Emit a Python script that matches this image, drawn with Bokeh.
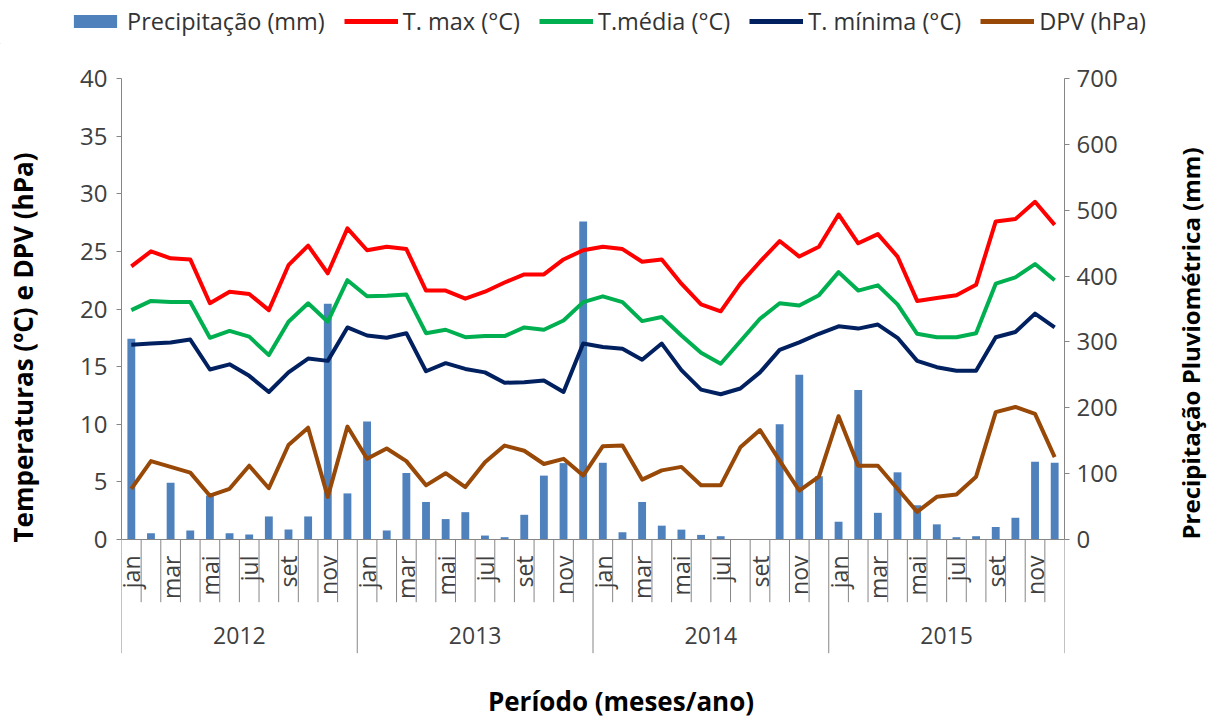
import math
from bokeh.plotting import figure
from bokeh.layouts import column, row
from bokeh.models import Range1d, LinearAxis, FixedTicker, Legend, LegendItem
from bokeh.core.properties import value
from bokeh.embed import file_html
from bokeh.resources import INLINE

# ---------------- data ----------------
years = ["2012", "2013", "2014", "2015"]
month_names = ["jan", "fev", "mar", "abr", "mai", "jun",
               "jul", "ago", "set", "out", "nov", "dez"]
shown_months = ["jan", "mar", "mai", "jul", "set", "nov"]

precip = [305, 9.6, 86, 13.7, 66.8, 9.6, 7.6, 35, 15.2, 35, 358, 70,
          179, 13.7, 101, 57, 31, 41.5, 6, 3.5, 37.5, 97, 116, 483,
          116.5, 11, 57, 21, 15, 7, 5, 0, 0, 175, 250, 96,
          27, 227, 40.5, 102, 52, 23, 3.5, 5, 19, 33, 118, 116.5]

tmax = [23.7, 25.0, 24.4, 24.3, 20.5, 21.5, 21.3, 19.9, 23.8, 25.5, 23.1, 27.0,
        25.1, 25.4, 25.2, 21.6, 21.6, 20.9, 21.5, 22.3, 23.0, 23.0, 24.3, 25.1,
        25.4, 25.2, 24.1, 24.3, 22.2, 20.4, 19.8, 22.2, 24.1, 25.9, 24.55, 25.4,
        28.2, 25.7, 26.5, 24.55, 20.7, 20.95, 21.2, 22.1, 27.6, 27.8, 29.3, 27.3]

tmed = [19.9, 20.7, 20.6, 20.6, 17.5, 18.1, 17.6, 16.0, 18.9, 20.5, 18.9, 22.5,
        21.1, 21.15, 21.25, 17.9, 18.2, 17.55, 17.65, 17.65, 18.4, 18.2, 19.0, 20.6,
        21.1, 20.6, 18.95, 19.3, 17.7, 16.2, 15.25, 17.2, 19.15, 20.5, 20.3, 21.2,
        23.2, 21.6, 22.05, 20.4, 17.85, 17.55, 17.55, 17.9, 22.2, 22.75, 23.9, 22.5]

tmin = [16.9, 17.0, 17.1, 17.35, 14.75, 15.2, 14.2, 12.8, 14.5, 15.7, 15.5, 18.4,
        17.7, 17.5, 17.9, 14.6, 15.3, 14.8, 14.5, 13.6, 13.65, 13.8, 12.8, 17.0,
        16.7, 16.55, 15.6, 17.0, 14.7, 13.0, 12.6, 13.1, 14.5, 16.45, 17.1, 17.85,
        18.5, 18.3, 18.65, 17.5, 15.5, 14.95, 14.65, 14.65, 17.55, 18.0, 19.6, 18.4]

dpv = [4.4, 6.8, 6.3, 5.8, 3.8, 4.4, 6.4, 4.45, 8.2, 9.7, 3.7, 9.8,
       7.0, 7.9, 6.8, 4.7, 5.75, 4.55, 6.7, 8.15, 7.7, 6.55, 7.0, 5.55,
       8.1, 8.15, 5.2, 6.0, 6.3, 4.7, 4.7, 8.0, 9.5, 6.85, 4.25, 5.45,
       10.7, 6.4, 6.4, 4.4, 2.4, 3.7, 3.9, 5.45, 11.05, 11.5, 10.9, 7.15]

series_names = ["Precipitação (mm)", "T. max (°C)", "T.média (°C)",
                "T. mínima (°C)", "DPV (hPa)"]
series_colors = ["#4F81BD", "#FF0000", "#00B050", "#002060", "#984807"]

# ---------------- layout constants (page px) ----------------
FONT = "Open Sans"
PAGE_W, PAGE_H = 1220, 720
LEG_H = 44                      # legend strip on top
LT_W = 50                       # strip for the left axis title
RT_W = 70                       # strip for the right axis title
MAIN_W, MAIN_H = PAGE_W - LT_W - RT_W, PAGE_H - LEG_H
FL, FR = 121, 1064              # plot area left/right (page px)
P40, P0 = 78, 539               # page y of 40 degC and of 0
ppu = (P0 - P40) / 40.0
ytop = 40 + (P40 - LEG_H) / ppu
ybot = -(PAGE_H - P0) / ppu
K = 700 / 40.0                  # mm per degC on the twin axes

AX = "#868686"
TXT = "#404040"


def yv(page_y):
    return (P0 - page_y) / ppu


def strip(w, h):
    f = figure(width=w, height=h, output_backend="svg", toolbar_location=None,
               x_range=Range1d(0, w), y_range=Range1d(0, h),
               x_axis_location=None, y_axis_location=None,
               min_border_left=0, min_border_right=0,
               min_border_top=0, min_border_bottom=0)
    f.title.visible = False
    f.xgrid.visible = False
    f.ygrid.visible = False
    f.outline_line_color = None
    return f


n = len(tmax)
xs = [i + 0.5 for i in range(n)]

# ---------------- main figure ----------------
p = figure(width=MAIN_W, height=MAIN_H, output_backend="svg", toolbar_location=None,
           x_range=Range1d(0, n), y_range=Range1d(ybot, ytop),
           x_axis_location=None,
           min_border_left=FL - LT_W, min_border_right=(PAGE_W - RT_W) - FR,
           min_border_top=0, min_border_bottom=0)
p.title.visible = False
p.xgrid.visible = False
p.ygrid.visible = False
p.outline_line_color = None
p.extra_y_ranges = {"precip": Range1d(ybot * K, ytop * K)}

ya = p.yaxis[0]
ya.bounds = (0, 40)
ya.ticker = FixedTicker(ticks=list(range(0, 45, 5)))

rax = LinearAxis(y_range_name="precip", bounds=(0, 700),
                 ticker=FixedTicker(ticks=list(range(0, 800, 100))))
p.add_layout(rax, "right")
for ax, so in ((ya, 9), (rax, 7)):
    ax.axis_line_color = AX
    ax.major_tick_line_color = AX
    ax.minor_tick_line_color = None
    ax.major_tick_in = 0
    ax.major_tick_out = 5
    ax.major_label_standoff = so
    ax.major_label_text_font = FONT
    ax.major_label_text_font_size = "24px"
    ax.major_label_text_color = TXT

# bars (secondary axis), then lines on top
p.vbar(x=xs, top=precip, bottom=0, width=0.4, y_range_name="precip",
       fill_color=series_colors[0], line_color=None)
for vals, col in zip([tmax, tmed, tmin, dpv], series_colors[1:]):
    p.line(xs, vals, line_color=col, line_width=4, line_join="round")

# category axis drawn in the lower part of the frame
p.segment(x0=[0], y0=[0], x1=[n], y1=[0], line_color=AX, line_width=1)
bx = list(range(0, n + 1))
by = [yv(652.7) if b % 12 == 0 else yv(601.7) for b in bx]
p.segment(x0=bx, y0=[0] * len(bx), x1=bx, y1=by, line_color=AX, line_width=1)

mx = [i + 0.5 for i in range(n) if month_names[i % 12] in shown_months]
mt = [month_names[i % 12] for i in range(n) if month_names[i % 12] in shown_months]
p.text(x=mx, y=[yv(555)] * len(mx), text=mt, angle=math.pi / 2,
       text_align="right", text_baseline="middle",
       text_font=value(FONT), text_font_size="23px", text_color=TXT)

yx = [12 * k + 6 for k in range(len(years))]
p.text(x=yx, y=[yv(635)] * len(yx), text=years,
       text_align="center", text_baseline="middle",
       text_font=value(FONT), text_font_size="23px", text_color=TXT)

p.text(x=[(620.5 - FL) / ((FR - FL) / n)], y=[yv(700)], text=["Período (meses/ano)"],
       text_align="center", text_baseline="middle",
       text_font=value(FONT), text_font_size="26px", text_font_style="bold",
       text_color="black")

# ---------------- axis title strips ----------------
lt = strip(LT_W, MAIN_H)
lt.text(x=[22], y=[MAIN_H - (347 - LEG_H)], text=["Temperaturas (ºC) e DPV (hPa)"],
        angle=math.pi / 2, text_align="center", text_baseline="middle",
        text_font=value(FONT), text_font_size="26px", text_font_style="bold",
        text_color="black")

rt = strip(RT_W, MAIN_H)
rt.text(x=[1190 - (PAGE_W - RT_W)], y=[MAIN_H - (343 - LEG_H)],
        text=["Precipitação Pluviométrica (mm)"],
        angle=math.pi / 2, text_align="center", text_baseline="middle",
        text_font=value(FONT), text_font_size="24px", text_font_style="bold",
        text_color="black")

# ---------------- legend strip ----------------
lg = strip(PAGE_W, LEG_H)
# legend sample glyphs (placed outside the visible range of the strip)
items = [LegendItem(label=series_names[0],
                    renderers=[lg.vbar(x=[-500], top=[1], width=1,
                                       fill_color=series_colors[0], line_color=None)])]
for name, col in zip(series_names[1:], series_colors[1:]):
    items.append(LegendItem(label=name,
                            renderers=[lg.line(x=[-600, -500], y=[1, 1],
                                               line_color=col, line_width=5)]))
legend = Legend(items=items, orientation="horizontal", location=(68, LEG_H - 37))
legend.glyph_width = 54
legend.glyph_height = 16
legend.label_height = 20
legend.label_standoff = 5
legend.spacing = 19
legend.padding = 0
legend.margin = 0
legend.border_line_color = None
legend.background_fill_alpha = 0
legend.label_text_font = FONT
legend.label_text_font_size = "23.5px"
legend.label_text_color = "#333333"
lg.add_layout(legend)

layout = column(lg, row(lt, p, rt, spacing=0), spacing=0)
open("out.html", "w").write(file_html(layout, INLINE))
